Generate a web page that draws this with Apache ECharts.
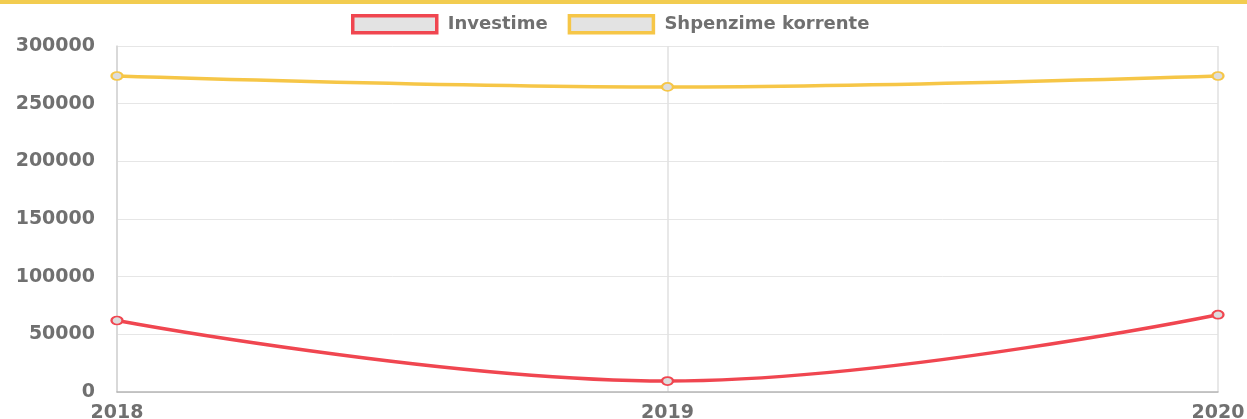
<!DOCTYPE html>
<html>
<head>
<meta charset="utf-8">
<script src="https://cdn.jsdelivr.net/npm/echarts@6/dist/echarts.min.js"></script>
<style>
  html, body { margin: 0; padding: 0; background: #fff; }
  #bar { position: absolute; left: 0; top: 0; width: 1247px; height: 4px; background: #f2cc50; z-index: 2; }
  #chart { position: absolute; left: 0; top: 0; width: 1247px; height: 419px; }
</style>
</head>
<body>
<div id="chart"></div>
<div id="bar"></div>
<script>
const years = ['2018', '2019', '2020'];
const investime = [62000, 9500, 67000];
const shpenzime = [274000, 264500, 274000];
const yTicks = [0, 300000, 50000]; // min, max, interval

const red = '#f04650';
const yellow = '#f6c647';
const labelFont = {color: '#707070', fontSize: 18, fontWeight: 'bold', fontFamily: 'DejaVu Sans'};

const chart = echarts.init(document.getElementById('chart'));
chart.setOption({
    animation: false,
    legend: {
        top: 9,
        left: 346,
        itemWidth: 84,
        itemHeight: 17,
        itemGap: 20,
        icon: 'rect',
        textStyle: Object.assign({padding: [0, 0, 0, 6]}, labelFont),
        data: [
            {name: 'Investime', itemStyle: {color: '#e3e3e3', borderColor: red, borderWidth: 3.5}},
            {name: 'Shpenzime korrente', itemStyle: {color: '#e3e3e3', borderColor: yellow, borderWidth: 3.5}}
        ]
    },
    grid: {left: 117, right: 29, top: 46, bottom: 27, containLabel: false, outerBoundsMode: 'none'},
    xAxis: {
        type: 'category',
        boundaryGap: false,
        data: years,
        axisLine: {lineStyle: {color: '#b5b5b5', width: 1.5}},
        axisTick: {show: false},
        axisLabel: Object.assign({margin: 12, fontSize: 19}, labelFont, {fontSize: 19}),
        splitLine: {show: true, lineStyle: {color: '#e0e0e0', width: 1.5}}
    },
    yAxis: {
        type: 'value',
        min: yTicks[0],
        max: yTicks[1],
        interval: yTicks[2],
        axisLine: {show: true, lineStyle: {color: '#d5d5d5', width: 1.5}},
        axisTick: {show: false},
        axisLabel: Object.assign({margin: 22, formatter: v => String(v)}, labelFont, {fontSize: 19}),
        splitLine: {lineStyle: {color: '#e6e6e6'}}
    },
    series: [
        {
            name: 'Investime',
            type: 'line',
            data: investime,
            smooth: 0.4,
            symbol: 'circle',
            symbolSize: [11, 8],
            lineStyle: {color: red, width: 3.5},
            itemStyle: {color: '#ddd', borderColor: red, borderWidth: 2}
        },
        {
            name: 'Shpenzime korrente',
            type: 'line',
            data: shpenzime,
            smooth: 0.4,
            symbol: 'circle',
            symbolSize: [11, 8],
            lineStyle: {color: yellow, width: 3.5},
            itemStyle: {color: '#ddd', borderColor: yellow, borderWidth: 2}
        }
    ]
});
</script>
</body>
</html>
